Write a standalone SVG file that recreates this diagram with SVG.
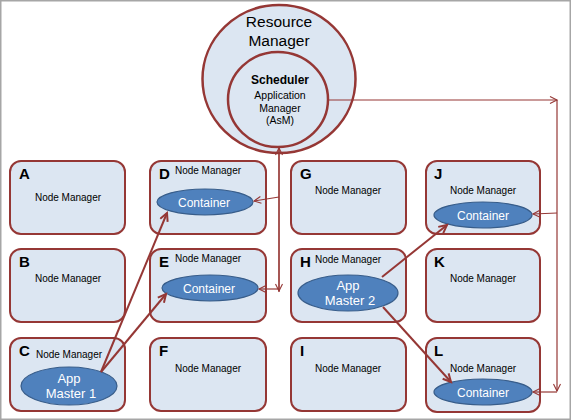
<svg xmlns="http://www.w3.org/2000/svg" width="571" height="420" viewBox="0 0 571 420">
<defs>
<marker id="thin" markerWidth="10" markerHeight="10" refX="8" refY="4" orient="auto" markerUnits="userSpaceOnUse">
<path d="M1,0.5 L8,4 L1,7.5" fill="none" stroke="#953735" stroke-width="1.1"/>
</marker>
<marker id="thick" markerWidth="12" markerHeight="12" refX="9" refY="5" orient="auto" markerUnits="userSpaceOnUse">
<path d="M1,1 L9,5 L1,9" fill="none" stroke="#953735" stroke-width="2"/>
</marker>
<style>
.box{fill:#dce6f2;stroke:#953735;stroke-width:2}
.circ{fill:#dce6f2;stroke:#953735;stroke-width:2.5}
.ell{fill:#4f81bd;stroke:#385d8a;stroke-width:1.2}
.t{font-family:"Liberation Sans",Arial,sans-serif;fill:#000}
.nm{font-size:10px;text-anchor:middle}
.let{font-size:15px;font-weight:bold}
.et{font-family:"Liberation Sans",Arial,sans-serif;fill:#fff;text-anchor:middle}
.thin{fill:none;stroke:#953735;stroke-width:1.2}
.thick{fill:none;stroke:#953735;stroke-width:2}
</style>
</defs>
<rect x="0" y="0" width="571" height="420" fill="#fff"/>
<rect x="0.75" y="0.75" width="569.5" height="418.5" fill="none" stroke="#a6a6a6" stroke-width="1.5"/>

<g id="rm">
<ellipse class="circ" cx="279" cy="79" rx="76.5" ry="74"/>
<text class="t" x="279" y="27" font-size="15.5" text-anchor="middle">Resource</text>
<text class="t" x="279" y="46" font-size="15.5" text-anchor="middle">Manager</text>
</g>
<g id="sched">
<ellipse class="circ" cx="278" cy="99.5" rx="50" ry="47.5"/>
<text class="t" x="280" y="84" font-size="12" font-weight="bold" text-anchor="middle">Scheduler</text>
<text class="t" x="280" y="99" font-size="10.5" text-anchor="middle">Application</text>
<text class="t" x="280" y="111.5" font-size="10.5" text-anchor="middle">Manager</text>
<text class="t" x="280" y="124" font-size="10.5" text-anchor="middle">(AsM)</text>
</g>

<g id="A"><rect class="box" x="10" y="161" width="115" height="73" rx="11"/>
<text class="t let" x="19" y="179">A</text><text class="t nm" x="68" y="201">Node Manager</text></g>
<g id="B"><rect class="box" x="10" y="249" width="115" height="73" rx="11"/>
<text class="t let" x="19" y="267">B</text><text class="t nm" x="68" y="282">Node Manager</text></g>
<g id="C"><rect class="box" x="10" y="338" width="115" height="73" rx="11"/>
<text class="t let" x="19" y="356">C</text><text class="t nm" x="69" y="358">Node Manager</text>
<ellipse class="ell" cx="69" cy="386" rx="48" ry="19"/>
<text class="et" x="69" y="383" font-size="13">App</text>
<text class="et" x="71" y="398" font-size="13">Master 1</text></g>

<g id="D"><rect class="box" x="150" y="161" width="116" height="73" rx="11"/>
<text class="t let" x="159" y="179">D</text><text class="t nm" x="208" y="174">Node Manager</text>
<ellipse class="ell" cx="205" cy="202" rx="48" ry="13"/>
<text class="et" x="204" y="206.5" font-size="12">Container</text></g>
<g id="E"><rect class="box" x="150" y="249" width="116" height="73" rx="11"/>
<text class="t let" x="159" y="267">E</text><text class="t nm" x="208" y="262">Node Manager</text>
<ellipse class="ell" cx="210" cy="288" rx="48" ry="13"/>
<text class="et" x="209" y="292.5" font-size="12">Container</text></g>
<g id="F"><rect class="box" x="150" y="338" width="116" height="73" rx="11"/>
<text class="t let" x="159" y="356">F</text><text class="t nm" x="208" y="372">Node Manager</text></g>

<g id="G"><rect class="box" x="291" y="161" width="115" height="73" rx="11"/>
<text class="t let" x="300" y="179">G</text><text class="t nm" x="348" y="194">Node Manager</text></g>
<g id="H"><rect class="box" x="291" y="249" width="115" height="73" rx="11"/>
<text class="t let" x="300" y="267">H</text><text class="t nm" x="348" y="263">Node Manager</text>
<ellipse class="ell" cx="348" cy="293" rx="50" ry="18"/>
<text class="et" x="348" y="289.5" font-size="13">App</text>
<text class="et" x="350" y="304.5" font-size="13">Master 2</text></g>
<g id="I"><rect class="box" x="291" y="338" width="115" height="73" rx="11"/>
<text class="t let" x="300" y="356">I</text><text class="t nm" x="348" y="372">Node Manager</text></g>

<g id="J"><rect class="box" x="426" y="161" width="114" height="73" rx="11"/>
<text class="t let" x="434" y="179">J</text><text class="t nm" x="483" y="194">Node Manager</text>
<ellipse class="ell" cx="483" cy="215" rx="49" ry="13"/>
<text class="et" x="483" y="219.5" font-size="12">Container</text></g>
<g id="K"><rect class="box" x="426" y="249" width="114" height="73" rx="11"/>
<text class="t let" x="434" y="267">K</text><text class="t nm" x="483" y="282">Node Manager</text></g>
<g id="L"><rect class="box" x="426" y="338" width="114" height="74" rx="11"/>
<text class="t let" x="434" y="356">L</text><text class="t nm" x="483" y="372">Node Manager</text>
<ellipse class="ell" cx="483" cy="392" rx="49" ry="13"/>
<text class="et" x="483" y="396.5" font-size="12">Container</text></g>

<g id="connectors">
<polyline class="thin" points="328,100 557,100" marker-end="url(#thin)"/>
<polyline class="thin" points="557,100 557,391" marker-end="url(#thin)"/>
<polyline class="thin" points="557,392 533,392" marker-end="url(#thin)"/>
<polyline class="thin" points="557,213 533,214" marker-end="url(#thin)"/>
<polyline class="thin" points="279,292 279,148" marker-end="url(#thin)"/>
<polyline class="thin" points="279,148 279,291" marker-end="url(#thin)"/>
<polyline class="thin" points="279,197 254,201" marker-end="url(#thin)"/>
<polyline class="thin" points="279,289 259,289" marker-end="url(#thin)"/>
<polyline class="thick" points="101,372 167,213" marker-end="url(#thick)"/>
<polyline class="thick" points="101,372 166,294" marker-end="url(#thick)"/>
<polyline class="thick" points="382,277 447,225" marker-end="url(#thick)"/>
<polyline class="thick" points="383,307 451,382" marker-end="url(#thick)"/>
</g>
</svg>
